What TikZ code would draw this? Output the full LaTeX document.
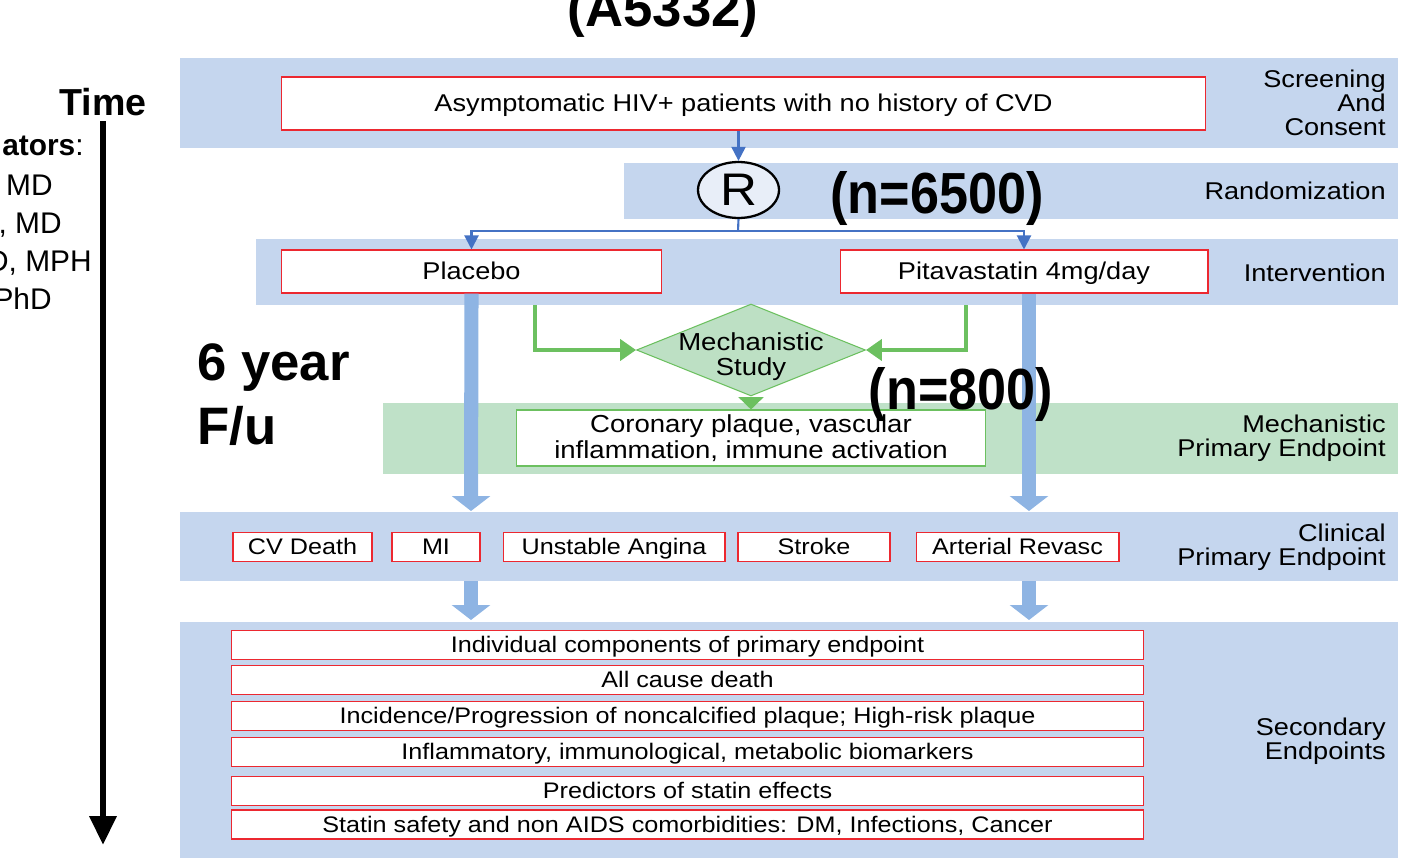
\documentclass[tikz,border=0pt]{standalone}
\usepackage{fontspec}
\setmainfont{Liberation Sans}[FakeStretch=1.12]
\newfontfamily\headfont{Liberation Sans}
\newfontfamily\narrowfont{Liberation Sans}[FakeStretch=0.9]
\usetikzlibrary{shapes.geometric, arrows.meta, positioning}
\definecolor{bandblue}{RGB}{197,214,238}
\definecolor{bandgreen}{RGB}{191,225,200}
\definecolor{linkblue}{RGB}{68,114,196}
\definecolor{flowblue}{RGB}{142,180,227}
\definecolor{studygreen}{RGB}{108,192,96}
\definecolor{diafill}{RGB}{189,224,196}
\definecolor{boxred}{RGB}{236,40,48}
\definecolor{rfill}{RGB}{232,238,248}

\begin{document}
\begin{tikzpicture}[x=0.02cm, y=-0.02cm,
    band/.style={fill=bandblue},
    mband/.style={fill=bandgreen},
    entry/.style={
      rectangle, draw=boxred, fill=white, line width=0.6pt, inner sep=0pt,
      text height=1.0em, text depth=0.1em,
      font=\fontsize{13.8}{16}\selectfont
    },
    endpt/.style={entry, font=\fontsize{12.8}{15}\selectfont, minimum height=0.58cm},
    phase/.style={anchor=east, align=right, inner sep=0pt, font=\fontsize{13.8}{13.6}\selectfont},
    big/.style={font=\narrowfont\bfseries\fontsize{33}{36}\selectfont, inner sep=0pt},
    side/.style={anchor=base east, inner sep=0pt, font=\headfont\fontsize{17}{18}\selectfont},
    darr/.style={-{Triangle[width=8pt,length=8pt]}, line width=1.2pt, color=linkblue},
    farr/.style={-{Triangle[width=21.5pt,length=8.5pt]}, line width=8pt, color=flowblue},
    garr/.style={-{Triangle[width=12pt,length=9pt]}, line width=2pt, color=studygreen}
]
  \clip (0,0) rectangle (1403,865);

  % Bands
  \fill[band] (180,58) rectangle (1398,148);
  \fill[band] (624,163) rectangle (1398,219);
  \fill[band] (256,239) rectangle (1398,305);
  \fill[mband] (383,403) rectangle (1398,474);
  \fill[band] (180,512) rectangle (1398,581);
  \fill[band] (180,622) rectangle (1398,858);

  % Phase labels
  \node[phase] (lscreen) at (1386,103) {Screening\\And\\Consent};
  \node[phase] (lrandom) at (1386,191) {Randomization};
  \node[phase] (linterv) at (1386,273) {Intervention};
  \node[phase] (lmech)   at (1386,438) {Mechanistic\\Primary Endpoint};
  \node[phase] (lclin)   at (1386,547) {Clinical\\Primary Endpoint};
  \node[phase] (lsecond) at (1386,741) {Secondary\\Endpoints};

  % Time axis and investigators
  \node[font=\headfont\bfseries\fontsize{21.4}{24}\selectfont, inner sep=0pt] (time) at (103,102) {Time};
  \coordinate (tend) at (103,845);
  \draw[-{Triangle[width=14.7pt,length=16.4pt]}, line width=3.8pt] ([yshift=-0.1cm]time.south) -- (tend);
  \node[side] (inv0) at (84,155) {{\bfseries ators}:};
  \node[side] (inv1) at (53,195) {MD};
  \node[side] (inv2) at (62,233) {, MD};
  \node[side] (inv3) at (92,271) {D, MPH};
  \node[side] (inv4) at (52,309) {PhD};

  \node[font=\headfont\bfseries\fontsize{30}{32}\selectfont, anchor=base, inner sep=0pt] (trial) at (663,27) {(A5332)};
  \node[font=\headfont\bfseries\fontsize{30}{36.5}\selectfont, anchor=west, align=left, inner sep=0pt] (fu) at (197,395) {6 year\\F/u};

  % Screening and randomization
  \node[entry, minimum width=18.5cm, minimum height=1.06cm] (screen) at (743.5,103.5)
    {Asymptomatic HIV+ patients with no history of CVD};
  \node[ellipse, draw, line width=1.3pt, fill=rfill, minimum width=1.62cm, minimum height=1.12cm,
    inner sep=0pt, font=\fontsize{26}{26}\selectfont] (rnd) at (738.5,190) {R};
  \node[big] (n6500) at (937,199) {(n=6500)};

  % Intervention arms
  \node[entry, minimum width=7.62cm, minimum height=0.86cm] (placebo) at (471.5,271.5) {Placebo};
  \node[entry, minimum width=7.36cm, minimum height=0.86cm] (pita) at (1024,271.5) {Pitavastatin 4mg/day};

  \coordinate (split) at (738,231);
  \draw[darr] (screen.south -| rnd) -- (rnd.north);
  \draw[line width=1.2pt, linkblue] (rnd.south) -- (split);
  \draw[darr] (split) -| (placebo.north);
  \draw[darr] (split) -| (pita.north);

  % Mechanistic study
  \node[diamond, draw=studygreen, fill=diafill, line width=0.6pt, minimum width=4.58cm,
    minimum height=1.84cm, inner sep=0pt] (mech) at (751,350) {};
  \node[font=\fontsize{14}{14.2}\selectfont, align=center, inner sep=0pt] (mechtxt) at (751,357) {Mechanistic\\Study};
  \node[rectangle, draw=studygreen, fill=white, line width=0.6pt, minimum width=9.4cm, minimum height=1.12cm,
    align=center, inner sep=0pt, font=\fontsize{14}{14.7}\selectfont] (plaque) at (751,438)
    {Coronary plaque, vascular\\inflammation, immune activation};

  \coordinate (gleft) at (535,305);
  \coordinate (gright) at (966,305);
  \draw[garr] (gleft) |- (mech.west);
  \draw[garr] (gright) |- (mech.east);
  \draw[garr, -{Triangle[width=14pt,length=7pt]}] (mech.south) -- (plaque.north);

  % Clinical primary endpoint
  \node[endpt, minimum width=2.78cm] (cvd)    at (302.5,547) {CV Death};
  \node[endpt, minimum width=1.76cm] (mi)     at (436,547)   {MI};
  \node[endpt, minimum width=4.44cm] (angina) at (614,547)   {Unstable Angina};
  \node[endpt, minimum width=3.04cm] (stroke) at (814,547)   {Stroke};
  \node[endpt, minimum width=4.06cm] (revasc) at (1017.5,547) {Arterial Revasc};

  % Flow arrows
  \coordinate (clin1) at (471,511);
  \coordinate (clin2) at (1029,511);
  \draw[farr] (placebo.south) -- (clin1);
  \draw[farr] (pita.south -| clin2) -- (clin2);
  \coordinate (out1) at (471,581);
  \coordinate (out2) at (1029,581);
  \coordinate (sec1) at (471,620);
  \coordinate (sec2) at (1029,620);
  \draw[farr] (out1) -- (sec1);
  \draw[farr] (out2) -- (sec2);

  \node[big] (n800) at (961,395) {(n=800)};

  % Secondary endpoints
  \node[endpt, minimum width=18.26cm] (s1) at (687.5,645)   {Individual components of primary endpoint};
  \node[endpt, minimum width=18.26cm] (s2) at (687.5,680)   {All cause death};
  \node[endpt, minimum width=18.26cm] (s3) at (687.5,716)   {Incidence/Progression of noncalcified plaque; High-risk plaque};
  \node[endpt, minimum width=18.26cm] (s4) at (687.5,752)   {Inflammatory, immunological, metabolic biomarkers};
  \node[endpt, minimum width=18.26cm] (s5) at (687.5,791)   {Predictors of statin effects};
  \node[endpt, minimum width=18.26cm] (s6) at (687.5,824.5) {Statin safety and non AIDS comorbidities: DM, Infections, Cancer};
\end{tikzpicture}
\end{document}
